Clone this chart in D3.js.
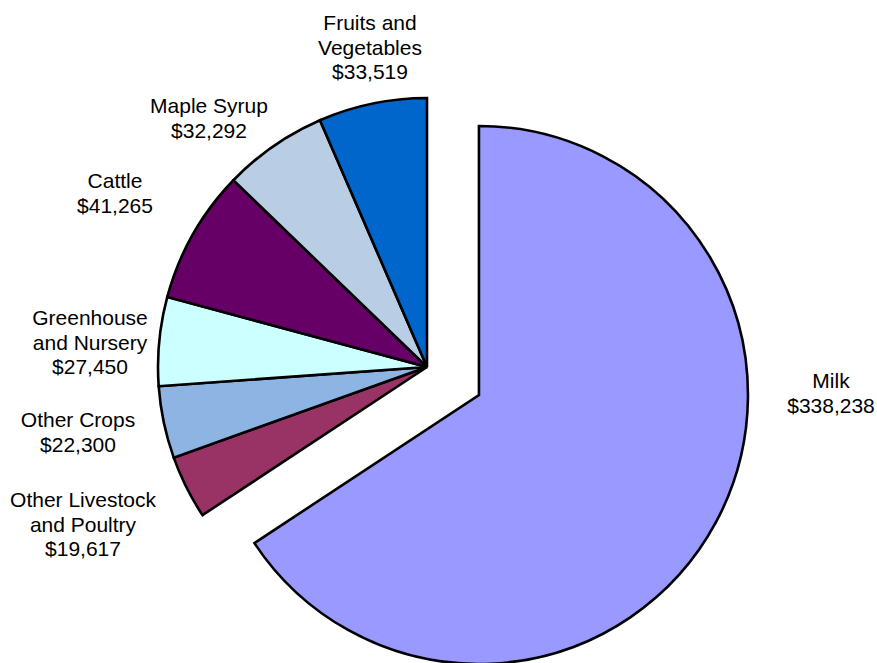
<!DOCTYPE html>
<html>
<head>
<meta charset="utf-8">
<script src="https://cdn.jsdelivr.net/npm/d3@7"></script>
<style>
  html, body { margin: 0; padding: 0; background: #fff; }
  svg { display: block; }
  text { font-family: "Liberation Sans", Arial, sans-serif; font-size: 21px; fill: #000; }
</style>
</head>
<body>
<svg id="chart" width="877" height="663"></svg>
<script>
// Farm receipts by commodity (thousands of dollars), clockwise from 12 o'clock
const categories = [
  "Milk",
  "Other Livestock and Poultry",
  "Other Crops",
  "Greenhouse and Nursery",
  "Cattle",
  "Maple Syrup",
  "Fruits and Vegetables"
];
const values = [338238, 19617, 22300, 27450, 41265, 32292, 33519];
const labelLines = [
  ["Milk"],
  ["Other Livestock", "and Poultry"],
  ["Other Crops"],
  ["Greenhouse", "and Nursery"],
  ["Cattle"],
  ["Maple Syrup"],
  ["Fruits and", "Vegetables"]
];
const colors = ["#9999FF", "#993366", "#8EB4E3", "#CCFFFF", "#660066", "#B9CDE5", "#0066CC"];

// Label placement (x centre, first baseline) for each slice
const labelAnchors = [
  [831, 388], [83, 507], [78, 427], [90, 325], [115, 188], [209, 113], [370, 30]
];

const cx = 427, cy = 367, radius = 269;
const explode = 59;          // Milk slice pulled out
const lineHeight = 24.5;
const fmt = d3.format("$,");

const data = categories.map((c, i) => ({ name: c, value: values[i], color: colors[i], lines: labelLines[i], anchor: labelAnchors[i] }));

const pie = d3.pie().value(d => d.value).sort(null).startAngle(0).endAngle(2 * Math.PI);
const arc = d3.arc().innerRadius(0).outerRadius(radius);

const svg = d3.select("#chart");
const g = svg.append("g").attr("transform", `translate(${cx},${cy})`);

const arcs = pie(data);

g.selectAll("path.slice")
  .data(arcs)
  .join("path")
  .attr("class", "slice")
  .attr("d", arc)
  .attr("transform", (d, i) => {
    if (i !== 0) return null;
    const mid = (d.startAngle + d.endAngle) / 2;
    return `translate(${Math.sin(mid) * explode},${-Math.cos(mid) * explode})`;
  })
  .attr("fill", d => d.data.color)
  .attr("stroke", "#000")
  .attr("stroke-width", 2.6)
  .attr("stroke-linejoin", "miter");

const labels = svg.selectAll("text.label")
  .data(arcs)
  .join("text")
  .attr("class", "label")
  .attr("text-anchor", "middle")
  .attr("x", d => d.data.anchor[0])
  .attr("y", d => d.data.anchor[1]);

labels.each(function(d) {
  const t = d3.select(this);
  const lines = d.data.lines.concat([fmt(d.data.value)]);
  lines.forEach((ln, k) => {
    t.append("tspan")
      .attr("x", d.data.anchor[0])
      .attr("y", d.data.anchor[1] + k * lineHeight)
      .text(ln);
  });
});
</script>
</body>
</html>
